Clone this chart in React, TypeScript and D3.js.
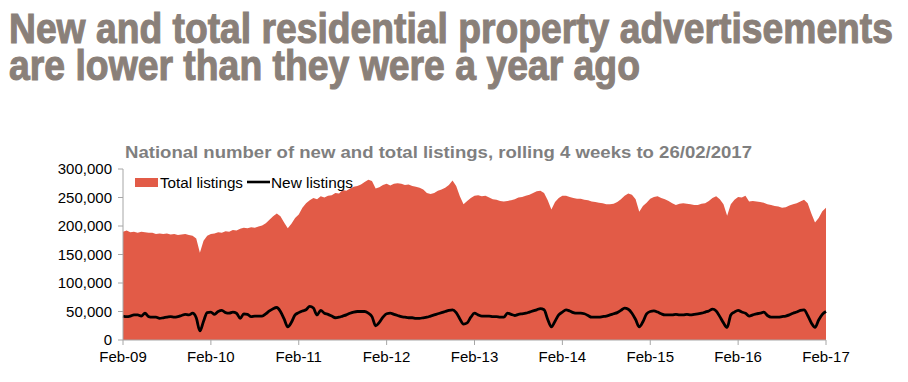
import React from "react";
import * as d3 from "d3";

const titleLines = [
  "New and total residential property advertisements",
  "are lower than they were a year ago",
];
const subtitle = "National number of new and total listings, rolling 4 weeks to 26/02/2017";
const seriesNames = ["Total listings", "New listings"];
const xTickLabels = ["Feb-09", "Feb-10", "Feb-11", "Feb-12", "Feb-13", "Feb-14", "Feb-15", "Feb-16", "Feb-17"];
const yTicks = [0, 50000, 100000, 150000, 200000, 250000, 300000];

// half-monthly readings (thousands), Feb-09 .. Feb-17
const totalListings = [
  190, 192, 189, 190, 188, 190, 189, 188, 188, 186, 187, 186, 187, 185, 186, 184, 185, 186, 184, 183, 178, 153, 174, 183,
  186, 187, 189, 188, 191, 190, 193, 192, 195, 197, 196, 198, 197, 199, 201, 205, 211, 217, 222, 217, 206, 196, 204, 214,
  220, 232, 240, 245, 249, 247, 252, 250, 253, 254, 258, 257, 263, 262, 266, 269, 270, 273, 277, 281, 279, 266, 268, 272,
  274, 271, 274, 275, 274, 272, 273, 270, 269, 267, 264, 258, 256, 258, 262, 264, 267, 272, 280, 270, 252, 238, 244, 249,
  253, 254, 252, 253, 250, 247, 246, 244, 243, 244, 245, 247, 250, 251, 253, 255, 258, 261, 262, 258, 245, 229, 242, 249,
  253, 253, 251, 249, 248, 248, 246, 245, 243, 242, 241, 240, 238, 238, 239, 242, 247, 253, 257, 255, 247, 225, 235, 241,
  248, 251, 252, 249, 247, 244, 240, 237, 239, 240, 239, 238, 237, 237, 239, 240, 244, 249, 252, 247, 238, 218, 238, 246,
  251, 250, 253, 243, 244, 243, 242, 241, 238, 237, 235, 234, 232, 233, 236, 238, 240, 243, 246, 240, 222, 206, 214, 226,
  232,
];
const newListings = [
  42, 41, 42, 44, 44, 42, 47, 41, 40, 40, 38, 39, 40, 41, 40, 41, 43, 45, 44, 47, 39, 16, 33, 48,
  49, 45, 50, 52, 48, 47, 49, 47, 38, 46, 45, 41, 42, 42, 42, 46, 51, 55, 57, 50, 37, 23, 31, 44,
  48, 51, 53, 59, 56, 44, 52, 47, 45, 42, 39, 40, 42, 44, 47, 49, 50, 50, 50, 47, 41, 25, 31, 40,
  46, 47, 45, 43, 41, 40, 39, 39, 38, 38, 39, 40, 42, 44, 46, 48, 50, 52, 53, 48, 37, 28, 30, 40,
  47, 44, 42, 42, 42, 41, 41, 40, 40, 47, 45, 43, 45, 46, 47, 49, 51, 53, 55, 53, 36, 23, 33, 44,
  49, 53, 51, 48, 47, 47, 46, 43, 40, 40, 40, 41, 42, 44, 46, 48, 52, 56, 54, 47, 36, 23, 32, 46,
  50, 51, 49, 46, 44, 44, 44, 45, 44, 44, 45, 44, 45, 46, 47, 49, 51, 54, 51, 41, 30, 22, 44, 49,
  52, 49, 47, 42, 44, 46, 47, 49, 43, 40, 40, 40, 41, 42, 44, 47, 49, 52, 53, 43, 30, 22, 35, 45,
  50,
];

const W = 908;
const H = 382;
const left = 123;
const right = 826;
const top = 169;
const bottom = 340;

export default function App() {
  const n = totalListings.length;
  const x = d3.scaleLinear().domain([0, n - 1]).range([left, right]);
  const y = d3.scaleLinear().domain([0, 300000]).range([bottom, top]);
  const area = d3
    .area<number>()
    .x((_, i) => x(i))
    .y0(y(0))
    .y1((d) => y(d * 1000));
  const line = d3
    .line<number>()
    .x((_, i) => x(i))
    .y((d) => y(d * 1000))
    .curve(d3.curveMonotoneX);
  const fmt = d3.format(",");
  const axisColor = "#a6a6a6";
  const red = "#E25B47";
  const labelFont = "Liberation Sans, Arial, sans-serif";

  return (
    <svg width={W} height={H} style={{ position: "absolute", left: 0, top: 0, background: "#fff" }}>
      <g
        fill="#8a8079"
        stroke="#8a8079"
        strokeWidth={1.1}
        fontFamily="'Liberation Sans', Arial, sans-serif"
        fontWeight="bold"
        fontSize={43}
      >
        <text x={9} y={43} textLength={884} lengthAdjust="spacingAndGlyphs">{titleLines[0]}</text>
        <text x={9} y={80} textLength={631} lengthAdjust="spacingAndGlyphs">{titleLines[1]}</text>
      </g>
      <text x={125} y={158} fill="#7f7f7f" fontFamily={labelFont} fontWeight="bold" fontSize={17} textLength={627} lengthAdjust="spacingAndGlyphs">
        {subtitle}
      </text>

      <path d={area(totalListings) || ""} fill={red} />
      <path d={line(newListings) || ""} fill="none" stroke="#000" strokeWidth={2.8} strokeLinejoin="round" />

      {/* y axis */}
      <line x1={left} x2={left} y1={top} y2={bottom} stroke={axisColor} strokeWidth={1} />
      {yTicks.map((t) => (
        <g key={t}>
          <line x1={left - 5} x2={left} y1={y(t)} y2={y(t)} stroke={axisColor} />
          <text x={112} y={y(t) + 5} textAnchor="end" fontFamily={labelFont} fontSize={15} fill="#000">
            {fmt(t)}
          </text>
        </g>
      ))}

      {/* x axis */}
      <line x1={left} x2={right} y1={bottom} y2={bottom} stroke={axisColor} strokeWidth={1} />
      {xTickLabels.map((lab, k) => {
        const xi = x(k * 24);
        return (
          <g key={lab}>
            <line x1={xi} x2={xi} y1={bottom} y2={bottom + 5} stroke={axisColor} />
            <text x={xi} y={362} textAnchor="middle" fontFamily={labelFont} fontSize={15} fill="#000">
              {lab}
            </text>
          </g>
        );
      })}

      {/* legend */}
      <rect x={135} y={178} width={23} height={9} fill={red} />
      <text x={160} y={188} fontFamily={labelFont} fontSize={14} fill="#000" textLength={83} lengthAdjust="spacingAndGlyphs">
        {seriesNames[0]}
      </text>
      <line x1={247} x2={270} y1={182} y2={182} stroke="#000" strokeWidth={2.6} />
      <text x={271} y={188} fontFamily={labelFont} fontSize={14} fill="#000" textLength={82} lengthAdjust="spacingAndGlyphs">
        {seriesNames[1]}
      </text>
    </svg>
  );
}
